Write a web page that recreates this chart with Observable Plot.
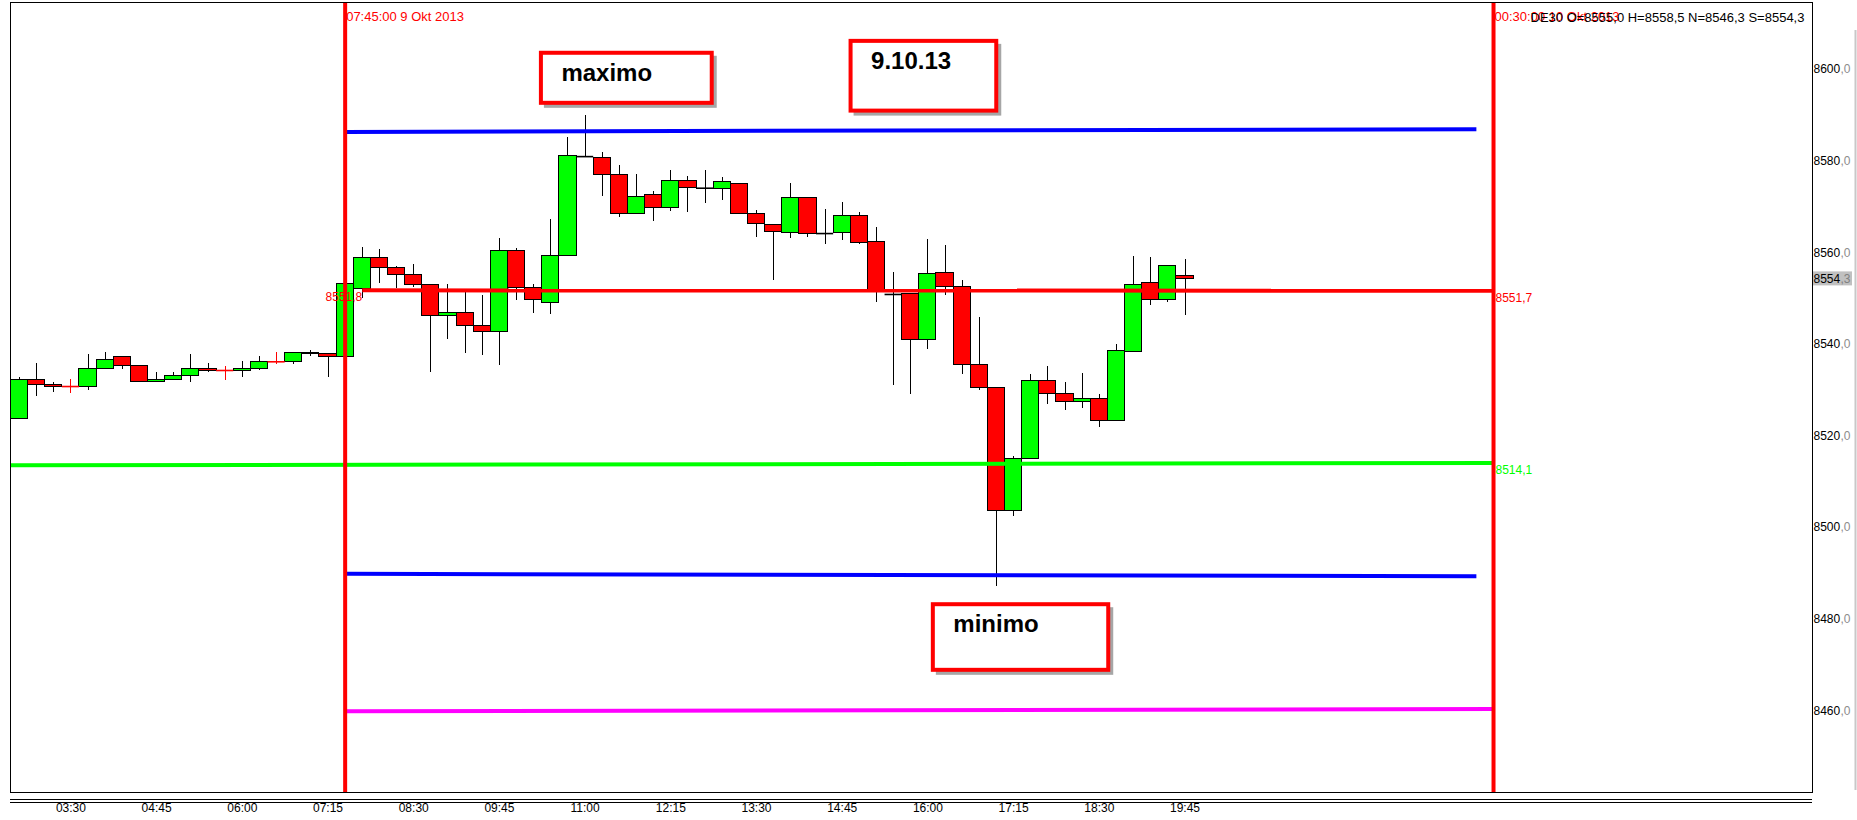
<!DOCTYPE html>
<html>
<head>
<meta charset="utf-8">
<script src="https://cdn.jsdelivr.net/npm/d3@7"></script>
<script src="https://cdn.jsdelivr.net/npm/@observablehq/plot@0.6"></script>
<style>
  html, body { margin: 0; padding: 0; background: #ffffff; }
  #chart svg { display: block; }
</style>
</head>
<body>
<div id="chart"></div>
<script>
// ---------- data ----------
const firstBar = "02:45";          // first 15-minute bar
const barMinutes = 15;
const opens  = [8523.8,8532.3,8531.2,8530.8,8530.8,8534.7,8537.3,8535.2,8531.7,8532.3,
                8533.2,8534.7,8534.3,8534.3,8534.7,8536.2,8536.2,8538.2,8537.8,8537.3,
                8552.0,8558.9,8556.6,8555.2,8553.0,8546.1,8546.9,8544.1,8542.6,8560.5,
                8552.4,8549.1,8559.4,8581.0,8580.8,8577.0,8568.5,8572.6,8569.8,8575.7,
                8574.1,8574.0,8575.1,8568.5,8566.1,8564.4,8572.0,8564.2,8564.4,8568.1,
                8562.4,8550.9,8550.9,8541.0,8555.6,8552.6,8535.4,8530.4,8503.7,8514.9,
                8531.9,8529.1,8527.5,8528.1,8523.2,8538.4,8553.5,8549.6,8555.0];
const highs  = [8532.8,8535.9,8531.7,8532.4,8537.8,8538.3,8537.3,8535.2,8533.9,8533.9,
                8537.8,8535.9,8535.2,8536.3,8537.4,8538.3,8538.2,8538.7,8537.8,8553.1,
                8561.2,8560.7,8557.0,8557.5,8553.0,8553.0,8551.4,8550.7,8563.1,8560.9,
                8553.1,8567.3,8585.2,8590.0,8581.8,8579.1,8577.1,8573.4,8578.0,8576.7,
                8578.0,8576.5,8575.1,8569.2,8566.1,8575.1,8572.0,8569.5,8571.0,8568.7,
                8565.6,8555.6,8550.9,8562.9,8561.6,8554.0,8545.9,8530.6,8515.6,8533.4,
                8535.2,8531.6,8533.7,8529.1,8540.0,8559.3,8559.0,8557.2,8558.5];
const lows   = [8523.6,8528.7,8529.6,8529.2,8530.0,8534.7,8534.6,8531.7,8531.7,8532.3,
                8531.6,8533.8,8532.2,8532.7,8534.2,8535.7,8535.7,8537.3,8532.7,8537.3,
                8550.1,8553.4,8552.2,8552.5,8533.8,8541.0,8538.1,8537.5,8535.3,8549.5,
                8546.8,8546.6,8559.4,8581.0,8572.3,8567.8,8568.5,8566.9,8569.1,8568.9,
                8570.8,8571.4,8568.5,8563.4,8554.0,8563.1,8563.4,8561.9,8562.7,8561.8,
                8549.2,8531.1,8529.0,8538.8,8550.6,8533.5,8529.9,8487.1,8502.4,8514.9,
                8526.8,8525.5,8526.0,8521.8,8523.2,8538.4,8548.4,8549.1,8546.3];
const closes = [8532.3,8531.2,8530.8,8530.8,8534.7,8536.7,8535.2,8531.7,8532.3,8533.2,
                8534.7,8534.3,8534.3,8534.7,8536.2,8536.2,8538.2,8537.8,8537.3,8553.1,
                8558.9,8556.6,8555.2,8553.0,8546.1,8546.9,8544.1,8542.6,8560.5,8552.4,
                8549.6,8559.4,8581.2,8581.0,8577.0,8568.5,8572.2,8569.8,8575.7,8574.1,
                8574.1,8575.5,8568.5,8566.3,8564.6,8572.0,8564.2,8564.2,8568.1,8562.2,
                8551.4,8550.9,8541.0,8555.4,8552.6,8535.6,8530.4,8503.7,8514.9,8531.9,
                8529.1,8527.5,8528.1,8523.2,8538.6,8553.0,8549.6,8557.2,8554.3];

const timeTicks  = ["03:30","04:45","06:00","07:15","08:30","09:45","11:00",
                    "12:15","13:30","14:45","16:00","17:15","18:30","19:45"];
const priceTicks = [8460, 8480, 8500, 8520, 8540, 8560, 8580, 8600];

const sessionTimes  = ["07:30", "24:15"];
const sessionLabels = ["07:45:00 9 Okt 2013", "00:30:00 10 Okt 2013"];
const symbolName = "DE30";

// horizontal levels (slightly sloped lines)
const levelNames = ["upper", "pivot", "support", "lower", "bottom"];
const levelStart = ["07:30", "07:45", "02:30", "07:30", "07:30"];
const levelEnd   = ["24:00", "24:15", "24:15", "24:00", "24:15"];
const levelFrom  = [8586.4, 8551.8, 8513.6, 8489.9, 8459.9];
const levelTo    = [8587.0, 8551.7, 8514.1, 8489.4, 8460.4];

// annotation boxes
const noteTexts  = ["maximo", "9.10.13", "minimo"];
const noteFrom   = ["10:20", "14:51", "16:03"];
const noteTo     = ["12:53", "17:02", "18:40"];
const noteTop    = [8604.0, 8606.6, 8483.6];
const noteBottom = [8592.2, 8590.5, 8468.4];

// ---------- helpers ----------
const toMin = s => { const [h, m] = s.split(":").map(Number); return h * 60 + m; };
const fmt = v => v.toFixed(1).replace(".", ",");
const RED = "#ff0000", GREEN = "#00ff00", BLUE = "#0000ff", MAGENTA = "#ff00ff";
const levelColors = [BLUE, RED, GREEN, BLUE, MAGENTA];
const FONT = "'Liberation Sans', Arial, sans-serif";

const t0 = toMin(firstBar);
const sessionStart = toMin(sessionTimes[0]);
const candles = opens.map((o, i) => ({
  t: t0 + i * barMinutes, open: o, high: highs[i], low: lows[i], close: closes[i]
}));
const bodies = candles.filter(d => d.open !== d.close);
const dojis  = candles.filter(d => d.open === d.close);
const dojiColor = d => d.t < sessionStart ? RED : "#000000";

const levels = levelNames.map((n, i) => ({
  name: n, t1: toMin(levelStart[i]), t2: toMin(levelEnd[i]),
  v1: levelFrom[i], v2: levelTo[i], color: levelColors[i]
}));
const pivot = levels[1], support = levels[2];

const sessions = sessionTimes.map((s, i) => ({t: toMin(s), label: sessionLabels[i]}));
const notes = noteTexts.map((n, i) => ({
  text: n, t1: toMin(noteFrom[i]), t2: toMin(noteTo[i]), top: noteTop[i], bottom: noteBottom[i]
}));
const last = candles[candles.length - 1];
const header = `${symbolName} O=${fmt(last.open)} H=${fmt(last.high)} N=${fmt(last.low)} S=${fmt(last.close)}`;

// layout: plot frame from x=10..1812, y=2..792
const xMin = t0 - 0.525 * barMinutes, xMax = t0 + 104.61 * barMinutes;
const yMin = 8442.16, yMax = 8614.65;

const chart = Plot.plot({
  width: 1857, height: 820,
  marginLeft: 10, marginRight: 45, marginTop: 2, marginBottom: 28,
  x: {domain: [xMin, xMax], axis: null},
  y: {domain: [yMin, yMax], axis: null},
  style: {background: "#ffffff", fontFamily: FONT, color: "#000"},
  marks: [
    // wicks
    Plot.ruleX(candles, {x: "t", y1: "low", y2: "high",
      stroke: d => d.open === d.close ? dojiColor(d) : "#000", strokeWidth: 1, shapeRendering: "crispEdges"}),
    // bodies
    Plot.rect(bodies, {x1: d => d.t - barMinutes / 2, x2: d => d.t + barMinutes / 2,
      y1: "open", y2: "close", fill: d => d.close > d.open ? GREEN : RED,
      stroke: "#000", strokeWidth: 1, shapeRendering: "crispEdges"}),
    // doji dashes
    Plot.ruleY(dojis, {x1: d => d.t - barMinutes / 2, x2: d => d.t + barMinutes / 2, y: "open",
      stroke: dojiColor, strokeWidth: 1.6}),
    // levels
    Plot.link(levels, {x1: "t1", y1: "v1", x2: "t2", y2: "v2", stroke: "color", strokeWidth: 4, clip: true}),
    // level labels
    Plot.text([pivot], {x: "t1", y: "v1", text: d => fmt(d.v1), textAnchor: "end", dy: 7,
      fill: RED, fontSize: 12, fontFamily: FONT}),
    Plot.text([pivot, support], {x: "t2", y: "v2", text: d => fmt(d.v2), textAnchor: "start", dx: 2, dy: 7,
      fill: "color", fontSize: 12, fontFamily: FONT}),
    // session vertical lines
    Plot.ruleX(sessions, {x: "t", stroke: RED, strokeWidth: 4}),
    Plot.text(sessions, {x: "t", frameAnchor: "top", dy: 9, dx: 1, text: "label", textAnchor: "start",
      fill: RED, fontSize: 13, fontFamily: FONT}),
    Plot.text([header], {x: () => toMin(sessionTimes[1]), frameAnchor: "top", dy: 10, dx: 37, text: d => d,
      textAnchor: "start", fill: "#000", fontSize: 13, fontFamily: FONT}),
    // frame and bottom double lines
    Plot.frame({stroke: "#000", strokeWidth: 1}),
    Plot.ruleY([yMin], {dy: 7, stroke: "#000", strokeWidth: 1.2}),
    Plot.ruleY([yMin], {dy: 10, stroke: "#000", strokeWidth: 1.2}),
    // right edge grey line
    Plot.ruleX([xMax], {dx: 43, y1: yMin, y2: yMax, insetTop: -2, insetBottom: -28, stroke: "#c8c8c8", strokeWidth: 2}),
    // x tick labels
    Plot.text(timeTicks, {x: d => toMin(d), text: d => d, frameAnchor: "bottom", dy: 19,
      fontSize: 12, fill: "#000", fontFamily: FONT}),
    // y tick labels
    Plot.text(priceTicks, {y: d => d, frameAnchor: "right", dx: 1, text: d => String(Math.floor(d)),
      textAnchor: "start", fontSize: 12, fill: "#000", fontFamily: FONT}),
    Plot.text(priceTicks, {y: d => d, frameAnchor: "right", dx: 28, text: d => "," + fmt(d).split(",")[1],
      textAnchor: "start", fontSize: 12, fill: "#8c8c8c", fontFamily: FONT}),
    // current price tag
    Plot.rect([last], {x1: () => xMax, x2: () => xMax, y1: "close", y2: "close",
      insetLeft: 1, insetRight: -40, insetTop: -7, insetBottom: -7, fill: "#c0c0c0"}),
    Plot.text([last], {y: "close", frameAnchor: "right", dx: 1, text: d => fmt(d.close).split(",")[0],
      textAnchor: "start", fontSize: 12, fill: "#000", fontFamily: FONT}),
    Plot.text([last], {y: "close", frameAnchor: "right", dx: 28, text: d => "," + fmt(d.close).split(",")[1],
      textAnchor: "start", fontSize: 12, fill: "#808080", fontFamily: FONT}),
    // annotation boxes
    Plot.rect(notes, {x1: "t1", x2: "t2", y1: "bottom", y2: "top", dx: 4, dy: 4, inset: 1,
      fill: "#000", fillOpacity: 0.35, ariaLabel: "note-shadow"}),
    Plot.rect(notes, {x1: "t1", x2: "t2", y1: "bottom", y2: "top", inset: 2,
      fill: "#fff", stroke: RED, strokeWidth: 4}),
    Plot.text(notes, {x: "t1", y: "top", text: "text", dx: 22, dy: 22, textAnchor: "start",
      fontSize: 24, fontWeight: "bold", fill: "#000", fontFamily: FONT})
  ]
});

document.getElementById("chart").appendChild(chart);
d3.select(chart).selectAll('g[aria-label="note-shadow"]').style("filter", "blur(2.5px)");
</script>
</body>
</html>
